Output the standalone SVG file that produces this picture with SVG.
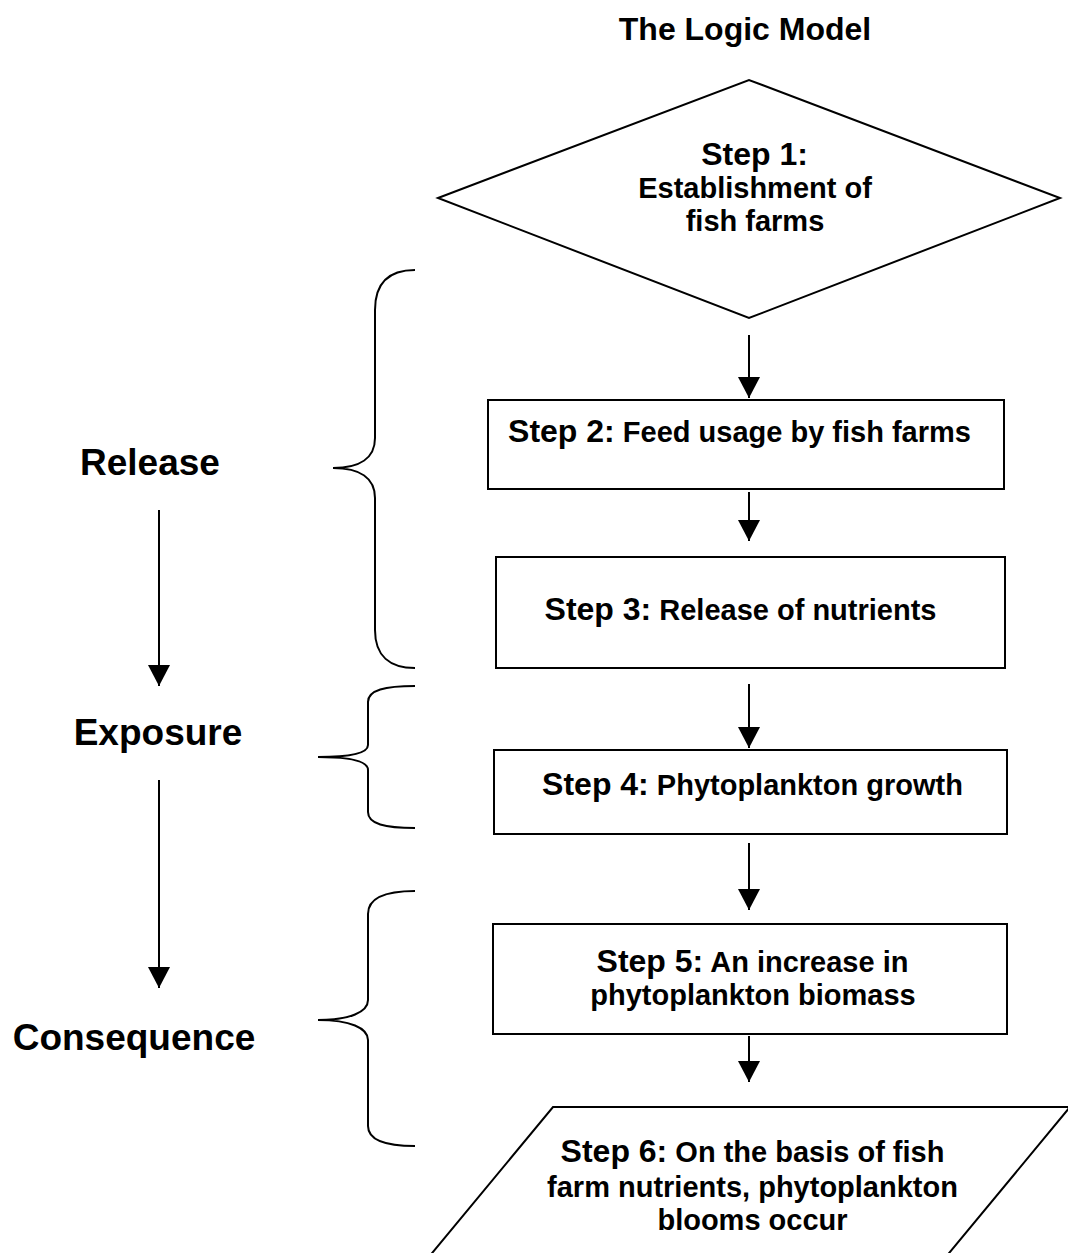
<svg xmlns="http://www.w3.org/2000/svg" width="1068" height="1253" viewBox="0 0 1068 1253">
<defs>
<marker id="ah" markerUnits="userSpaceOnUse" markerWidth="22" markerHeight="22" viewBox="0 0 22 22" refX="21" refY="11" orient="auto">
<path d="M0,0 L21,11 L0,22 Z" fill="#000"/>
</marker>
</defs>
<style>
.shape{fill:#fff;stroke:#000;stroke-width:2}
.brace{fill:none;stroke:#000;stroke-width:2}
.conn{stroke:#000;stroke-width:2;fill:none}
text{font-family:"Liberation Sans",Arial,Helvetica,sans-serif;font-weight:bold;fill:#000}
.t{font-size:29px;text-anchor:middle}
.s{font-size:32px}
.lbl{font-size:37px;text-anchor:middle}
.title{font-size:32px;text-anchor:middle}
</style>
<rect width="1068" height="1253" fill="#fff"/>
<text class="title" x="745" y="40">The Logic Model</text>

<g id="step1">
<polygon class="shape" points="438,198 749,80 1060,198 749,318"/>
<text class="t" x="754.5" y="165"><tspan class="s">Step 1:</tspan></text>
<text class="t" x="755" y="198">Establishment of</text>
<text class="t" x="755" y="231">fish farms</text>
</g>
<g id="step2">
<rect class="shape" x="488" y="400" width="516" height="89"/>
<text class="t" x="739.5" y="442"><tspan class="s">Step 2:</tspan> Feed usage by fish farms</text>
</g>
<g id="step3">
<rect class="shape" x="496" y="557" width="509" height="111"/>
<text class="t" x="740.5" y="620"><tspan class="s">Step 3:</tspan> Release of nutrients</text>
</g>
<g id="step4">
<rect class="shape" x="494" y="750" width="513" height="84"/>
<text class="t" x="752.5" y="795"><tspan class="s">Step 4:</tspan> Phytoplankton growth</text>
</g>
<g id="step5">
<rect class="shape" x="493" y="924" width="514" height="110"/>
<text class="t" x="752.5" y="972"><tspan class="s">Step 5:</tspan> An increase in</text>
<text class="t" x="753" y="1005">phytoplankton biomass</text>
</g>
<g id="step6">
<polygon class="shape" points="553,1107 1070,1107 945,1258 428,1258"/>
<text class="t" x="752.5" y="1162"><tspan class="s">Step 6:</tspan> On the basis of fish</text>
<text class="t" x="752.5" y="1197">farm nutrients, phytoplankton</text>
<text class="t" x="752.5" y="1230">blooms occur</text>
</g>

<g id="release">
<text class="lbl" x="150" y="475">Release</text>
<path class="brace" d="M415,270 C390,270 375,282 375,310 L375,438 C375,458 360,468 333,468 C360,468 375,478 375,498 L375,630 C375,656 390,668 415,668"/>
</g>
<g id="exposure">
<text class="lbl" x="158" y="745">Exposure</text>
<path class="brace" d="M415,686 C385,686 368,690 368,702 L368,745 C368,752 355,757 318,757 C355,757 368,762 368,770 L368,812 C368,824 385,828 415,828"/>
</g>
<g id="consequence">
<text class="lbl" x="134" y="1050">Consequence</text>
<path class="brace" d="M415,891 C385,891 368,898 368,914 L368,1000 C368,1012 350,1020 318,1020 C350,1020 368,1028 368,1040 L368,1126 C368,1140 385,1146 415,1146"/>
</g>

<g id="connectors">
<line class="conn" x1="749" y1="335" x2="749" y2="398" marker-end="url(#ah)"/>
<line class="conn" x1="749" y1="492" x2="749" y2="541" marker-end="url(#ah)"/>
<line class="conn" x1="749" y1="684" x2="749" y2="748" marker-end="url(#ah)"/>
<line class="conn" x1="749" y1="843" x2="749" y2="910" marker-end="url(#ah)"/>
<line class="conn" x1="749" y1="1036" x2="749" y2="1082" marker-end="url(#ah)"/>
<line class="conn" x1="159" y1="510" x2="159" y2="686" marker-end="url(#ah)"/>
<line class="conn" x1="159" y1="780" x2="159" y2="988" marker-end="url(#ah)"/>
</g>
</svg>
